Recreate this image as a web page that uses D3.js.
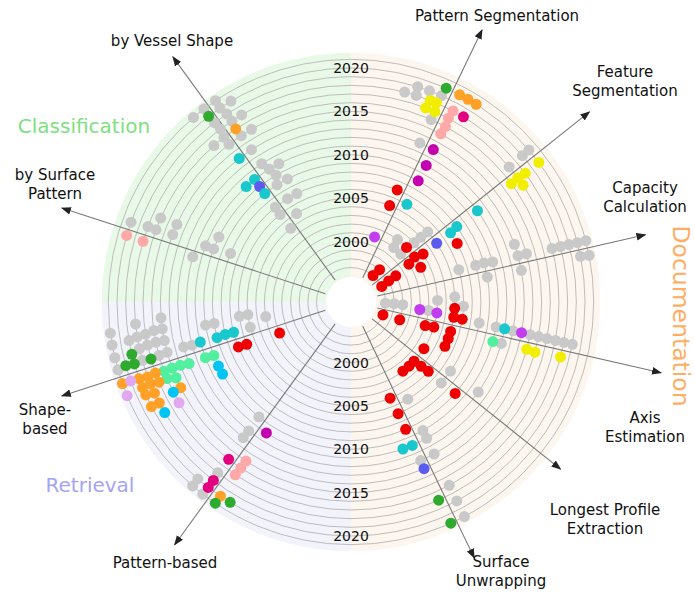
<!DOCTYPE html>
<html><head><meta charset="utf-8">
<script src="https://cdn.jsdelivr.net/npm/d3@7"></script>
<style>body{margin:0;background:#fff}svg{display:block}text{font-family:"DejaVu Sans",sans-serif}</style>
</head><body><svg id="c" width="695" height="600"></svg>
<script>
// ---------- data ----------
const rightAxes = ["Pattern Segmentation","Feature Segmentation","Capacity Calculation","Axis Estimation","Longest Profile Extraction","Surface Unwrapping"];
const leftAxes  = ["Pattern-based","Shape-based","by Surface Pattern","by Vessel Shape"];
const groups = ["Classification","Documentation","Retrieval"];
const yearTicks = [2000,2005,2010,2015,2020];
const ringYears = d3.range(1997, 2022);

// each entry: [year, category, lane (side offset in dot widths)]
const patternSegmentation = [[2018,"g",-4.3],[2019,"g",-3.35],[2018,"g",-3.1],[2019,"g",-2.1],[2019,"g",-0.8],[2020,"gn",-0.7],
 [2018,"y",-1.6],[2017,"y",-1.7],[2018,"y",-0.95],[2017,"y",-0.7],[2016,"g",-0.7],
 [2018,"p",0.9],[2017,"p",0.8],[2016,"p",0.9],[2015,"p",0.8],
 [2018,"dp",2.1],[2020,"o",0.8],[2020,"o",1.75],[2020,"o",2.7],
 [2013,"g",-0.7],[2013,"m",0.8],[2011,"m",0.85],[2009,"m",0.8],
 [2007,"r",-0.7],[2005,"r",-0.7],[2006,"c",0.8],[2001,"v",-0.7]];
const featureSegmentation = [[1997,"r",-0.7],[1998,"r",-0.75],[1997,"r",0.7],[1998,"r",0.7],[1999,"r",0.75],
 [2001,"g",-1.6],[2001,"g",-0.65],[2002,"g",-2.0],[2002,"r",-0.8],
 [2003,"g",-0.7],[2004,"g",-0.7],[2005,"g",-0.7],
 [2001,"r",0.65],[2002,"r",0.45],[2002,"r",1.65],[2003,"r",0.75],
 [2005,"b",0.75],[2007,"r",2.05],[2007,"c",0.8],[2008,"c",0.7],[2011,"c",0.75],
 [2016,"y",0.75],[2017,"y",0.7],[2017,"y",1.6],[2018,"y",0.8],[2020,"y",0.8],
 [2017,"g",-0.7],[2019,"g",-0.75],[2020,"g",-0.8]];
const capacityCalculation = [[2006,"g",-0.75],[2008,"g",-0.8],[2009,"g",-0.85],[2010,"g",-0.75],[2009,"g",0.6],
 [2013,"g",-2.0],[2013,"g",-0.8],[2014,"g",-0.8],[2013,"g",0.7],
 [2017,"g",-0.75],[2018,"g",-0.75],[2019,"g",-0.75],[2020,"g",-0.75],[2021,"g",-0.75],
 [2020,"g",0.65],[2021,"g",0.75]];
const axisEstimation = [[1997,"g",-0.65],[1998,"g",-0.8],[1999,"g",-0.9],
 [2003,"g",-2.1],[2005,"g",-2.85],[2006,"g",-2.1],
 [2001,"v",-0.8],[2002,"g",-0.9],[2003,"v",-0.85],
 [2005,"r",-1.7],[2005,"r",-0.8],[2006,"r",-0.8],
 [1997,"r",0.55],[1999,"r",0.65],[2002,"r",0.65],[2003,"r",0.6],[2005,"r",0.65],[2005,"r",1.4],[2005,"r",2.25],
 [2008,"g",-0.8],[2010,"g",-0.8],[2011,"c",-0.8],[2012,"g",-0.8],[2013,"v",-0.8],
 [2014,"g",-0.8],[2015,"g",-0.8],[2016,"g",-0.8],[2017,"g",-0.8],[2018,"g",-0.8],[2019,"g",-0.8],
 [2010,"mt",0.7],[2011,"g",0.7],[2014,"y",0.7],[2015,"y",0.8],[2018,"y",0.7]];
const longestProfileExtraction = [[2003,"r",-0.9],[2003,"r",0.7],[2003,"r",1.4],[2003,"r",2.2],[2004,"r",0.65],[2005,"r",0.6],
 [2007,"g",-0.8],[2007,"g",0.7],[2009,"r",0.65],[2011,"g",-0.9]];
const surfaceUnwrapping = [[2005,"r",0.65],[2006,"g",-0.9],[2007,"r",0.6],[2009,"r",0.6],[2010,"g",-0.9],[2011,"g",-0.9],
 [2011,"c",1.7],[2011,"c",0.7],[2013,"g",-0.9],[2013,"g",0.6],[2014,"b",0.65],
 [2017,"g",-0.9],[2019,"g",-0.9],[2021,"g",-0.9],[2018,"gn",0.7],[2021,"gn",0.6]];
const patternBased = [[2010,"g",0.7],[2011,"m",-0.85],[2012,"g",0.7],[2013,"g",0.75],
 [2016,"dp",0.65],[2015,"p",-0.85],[2016,"p",-0.85],[2017,"p",-0.8],
 [2018,"g",0.75],[2019,"dp",0.65],[2020,"dp",0.65],[2020,"g",2.0],[2021,"g",2.0],[2021,"g",0.7],
 [2020,"o",-0.85],[2021,"gn",-0.85],[2020,"gn",-2.0]];
const shapeBased = [[2002,"r",-0.75],[2007,"r",-0.8],[2006,"r",-0.8],
 [2011,"c",0.85],[2009,"c",0.75],[2008,"c",0.8],[2007,"c",0.75],
 [2010,"g",2.3],[2009,"g",2.2],[2006,"g",2.1],[2005,"g",2.0],[2005,"g",0.7],[2003,"g",1.25],
 [2013,"g",0.9],[2012,"g",0.8],
 [2011,"mt",-0.8],[2010,"mt",-0.85],[2010,"s",-2.0],[2010,"s",-2.9],
 [2016,"mt",-0.8],[2015,"mt",-0.75],[2014,"mt",-0.75],[2013,"mt",-0.85],[2016,"mt",-1.6],[2015,"mt",-1.8],
 [2021,"o",-0.7],[2019,"o",-0.75],[2018,"o",-0.85],[2017,"o",-0.7],[2019,"o",-1.7],[2018,"o",-1.6],[2017,"o",-1.7],
 [2019,"o",-2.5],[2018,"o",-2.6],[2019,"o",-3.8],[2018,"o",-3.7],[2015,"o",-2.9],
 [2020,"l",-0.7],[2021,"l",-2.0],[2016,"l",-4.3],
 [2016,"s",-3.1],[2018,"s",-4.8],
 [2019,"gn",1.8],[2020,"gn",0.9],[2019,"gn",0.8],[2017,"gn",0.75],
 [2021,"g",4.5],[2021,"g",3.3],[2021,"g",2.0],[2021,"g",0.75],[2018,"g",4.6],[2015,"g",4.4],
 [2019,"g",3.2],[2018,"g",3.3],[2017,"g",3.3],[2016,"g",3.4],[2015,"g",3.3],
 [2018,"g",2.1],[2017,"g",2.2],[2016,"g",2.2],[2015,"g",2.1],
 [2018,"g",0.9],[2016,"g",0.85],[2015,"g",0.9]];
const bySurfacePattern = [[2020,"g",0.8],[2017,"g",2.1],[2018,"g",0.9],[2017,"g",0.85],[2015,"g",2.0],[2015,"g",0.9],
 [2020,"p",-0.6],[2018,"p",-0.65],
 [2010,"g",2.1],[2011,"g",0.85],[2010,"g",0.8],[2008,"g",0.9],[2012,"g",-0.6]];
const byVesselShape = [[2021,"g",-1.9],[2021,"g",-0.55],[2021,"g",0.87],[2020,"g",2.1],[2020,"g",0.8],[2019,"g",1.0],
 [2018,"g",2.15],[2019,"g",-0.5],[2018,"g",-0.4],[2018,"g",1.0],[2016,"g",2.1],[2016,"g",0.9],[2017,"g",-1.9],
 [2016,"g",-0.6],[2017,"g",-0.6],[2014,"g",0.9],
 [2020,"gn",-0.6],[2017,"o",0.85],[2014,"c",-0.6],[2011,"c",-1.7],[2011,"c",-0.6],[2010,"b",-0.6],[2009,"c",-0.6],
 [2012,"g",0.9],[2011,"g",2.3],[2011,"g",1.2],[2010,"g",1.4],[2009,"g",2.1],[2009,"g",0.9],
 [2007,"g",0.95],[2007,"g",-0.55],[2006,"g",-0.6],[2007,"g",2.0],[2005,"g",0.8],[2004,"g",-0.55]];

const axisData = {
 "Pattern Segmentation": patternSegmentation, "Feature Segmentation": featureSegmentation,
 "Capacity Calculation": capacityCalculation, "Axis Estimation": axisEstimation,
 "Longest Profile Extraction": longestProfileExtraction, "Surface Unwrapping": surfaceUnwrapping,
 "Pattern-based": patternBased, "Shape-based": shapeBased,
 "by Surface Pattern": bySurfacePattern, "by Vessel Shape": byVesselShape };

// ---------- styles / layout ----------
const palette = {g:"#c9c9c9", r:"#ee0000", c:"#18c8cc", b:"#5b5bef", m:"#c400ae", dp:"#e2007f", v:"#c23cf0",
 y:"#f2ee00", p:"#ffa8a8", o:"#ffa126", gn:"#2eaa2e", mt:"#52f09e", s:"#00c4f2", l:"#e0a8ee"};
const labelLayout = {
 "Pattern Segmentation": {len:302, x:497, y:16, lines:["Pattern Segmentation"]},
 "Feature Segmentation": {len:305, x:625, y:72, lines:["Feature","Segmentation"]},
 "Capacity Calculation": {len:302, x:645, y:188, lines:["Capacity","Calculation"]},
 "Axis Estimation": {len:318, x:645, y:418, lines:["Axis","Estimation"]},
 "Longest Profile Extraction": {len:268, x:605, y:510, lines:["Longest Profile","Extraction"]},
 "Surface Unwrapping": {len:284, x:501, y:562, lines:["Surface","Unwrapping"]},
 "Pattern-based": {len:300, x:165, y:563, lines:["Pattern-based"]},
 "Shape-based": {len:304, x:45, y:410, lines:["Shape-","based"]},
 "by Surface Pattern": {len:304, x:55, y:175, lines:["by Surface","Pattern"]},
 "by Vessel Shape": {len:303, x:172, y:41, lines:["by Vessel Shape"]}
};

const W = 695, H = 600, cx = 351, cy = 302;
const svg = d3.select("#c");
const g = svg.append("g").attr("transform", `translate(${cx},${cy})`);
const r = d3.scaleLinear().domain([2000, 2020]).range([60.5, 234]);
const deg = Math.PI / 180;

// axis angles (clockwise from north): right half split in 7, left half in 5
const angle = {};
rightAxes.forEach((n, i) => angle[n] = (i + 1) * 180 / 7 * deg);
leftAxes.forEach((n, i) => angle[n] = (180 + (i + 1) * 36) * deg);

// background sectors
const outerR = r(2021.75), holeR = 25;
const arc = d3.arc().innerRadius(0).outerRadius(outerR);
g.append("path").attr("d", arc({startAngle: 0, endAngle: Math.PI})).attr("fill", "#fdf6ee");
g.append("path").attr("d", arc({startAngle: Math.PI, endAngle: 1.5 * Math.PI})).attr("fill", "#f3f3fc");
g.append("path").attr("d", arc({startAngle: 1.5 * Math.PI, endAngle: 2 * Math.PI})).attr("fill", "#e8f9e8");

// rings
g.selectAll("circle.ring").data(ringYears).join("circle").attr("class", "ring")
  .attr("r", d => r(d)).attr("fill", "none").attr("stroke", "#bdbdbd").attr("stroke-width", 1);

// hole
g.append("circle").attr("r", holeR).attr("fill", "#fff");

// arrow marker
svg.append("defs").append("marker").attr("id", "arr").attr("viewBox", "0 0 10 10")
  .attr("refX", 9).attr("refY", 5).attr("markerWidth", 10).attr("markerHeight", 10)
  .attr("markerUnits", "userSpaceOnUse").attr("orient", "auto")
  .append("path").attr("d", "M0,1.2 L10,5 L0,8.8 Z").attr("fill", "#222");

const allAxes = rightAxes.concat(leftAxes);
const pt = (a, rr) => [rr * Math.sin(a), -rr * Math.cos(a)];

// axes lines
g.selectAll("line.axis").data(allAxes).join("line").attr("class", "axis")
  .attr("x1", d => pt(angle[d], 27)[0]).attr("y1", d => pt(angle[d], 27)[1])
  .attr("x2", d => pt(angle[d], labelLayout[d].len)[0]).attr("y2", d => pt(angle[d], labelLayout[d].len)[1])
  .attr("stroke", "#7a7a7a").attr("stroke-width", 1.1).attr("marker-end", "url(#arr)");

// year labels
yearTicks.forEach(y => {
  [-1, 1].forEach(s => {
    g.append("text").attr("x", 0).attr("y", s * r(y)).attr("text-anchor", "middle")
      .attr("dominant-baseline", "central").attr("font-size", 14).attr("fill", "#111").text(y);
  });
});

// dots
const dotR = 5.5, laneW = 10;
const dots = [];
allAxes.forEach(n => axisData[n].forEach(([yr, cat, lane]) => {
  const rr = r(yr);
  const a = angle[n] + lane * laneW / rr;
  dots.push({x: pt(a, rr)[0], y: pt(a, rr)[1], cat});
}));
const order = d => d.cat === "g" ? 0 : 1;
dots.sort((a, b) => order(a) - order(b));
g.selectAll("circle.dot").data(dots).join("circle").attr("class", "dot")
  .attr("cx", d => d.x).attr("cy", d => d.y).attr("r", dotR).attr("fill", d => palette[d.cat]);

// axis labels
allAxes.forEach(n => {
  const L = labelLayout[n];
  const t = svg.append("text").attr("text-anchor", "middle").attr("font-size", 15).attr("fill", "#111");
  L.lines.forEach((ln, i) => t.append("tspan").attr("x", L.x).attr("y", L.y + i * 19)
    .attr("dominant-baseline", "central").text(ln));
});

// group labels
svg.append("text").attr("x", 84).attr("y", 126).attr("text-anchor", "middle").attr("dominant-baseline", "central")
  .attr("font-size", 20).attr("fill", "#80e080").text(groups[0]);
svg.append("text").attr("transform", "translate(681,316) rotate(90)").attr("text-anchor", "middle")
  .attr("dominant-baseline", "central").attr("font-size", 23.5).attr("fill", "#ffad62").text(groups[1]);
svg.append("text").attr("x", 90).attr("y", 485).attr("text-anchor", "middle").attr("dominant-baseline", "central")
  .attr("font-size", 20).attr("fill", "#a4a4f4").text(groups[2]);
</script></body></html>
